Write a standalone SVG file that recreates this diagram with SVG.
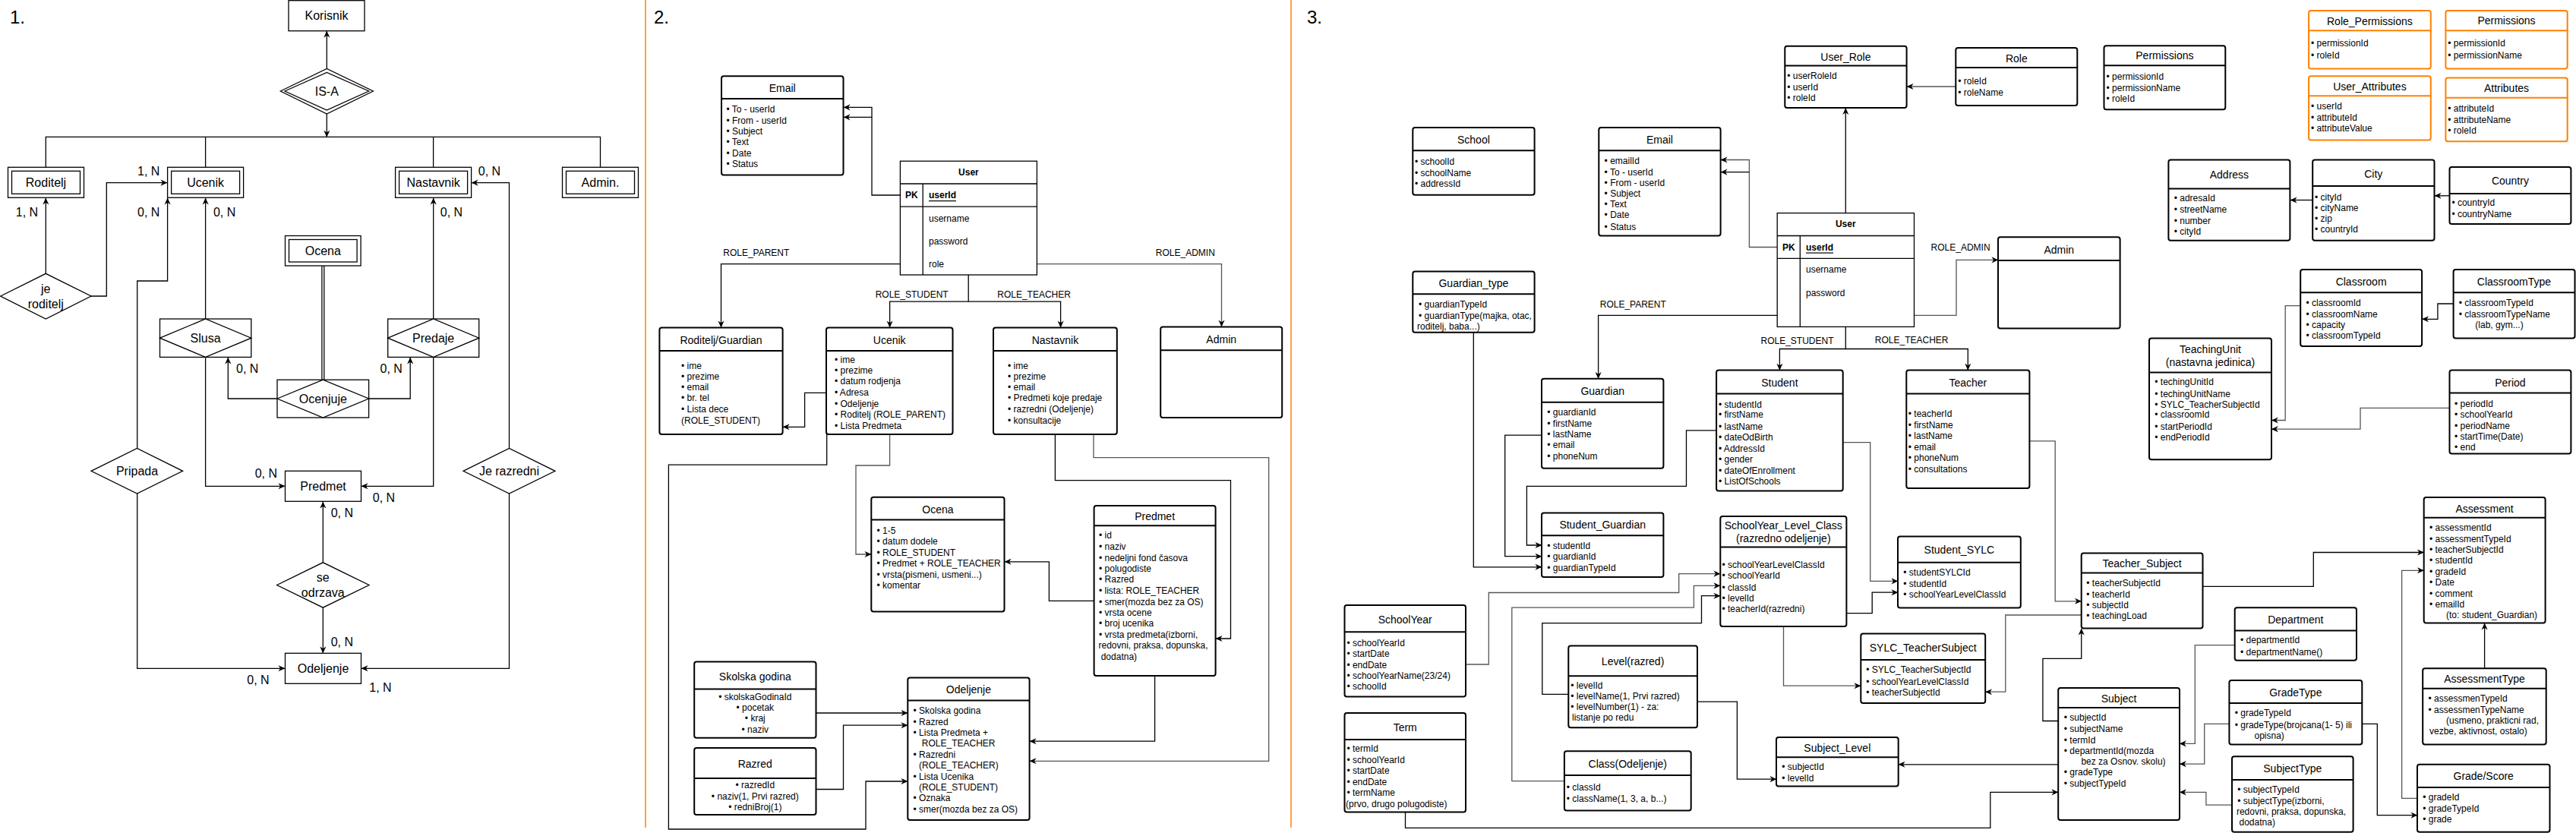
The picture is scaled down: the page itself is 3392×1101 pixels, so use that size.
<svg xmlns="http://www.w3.org/2000/svg" width="3392" height="1101" viewBox="0 0 3392 1101">
<defs>
<style>
text{font-family:"Liberation Sans",Arial,sans-serif;fill:#000}
.e{fill:#fff;stroke:#000;stroke-width:1.3}
.b{fill:#fff;stroke:#000;stroke-width:2}
.o{fill:#fff;stroke:#FF8000;stroke-width:2}
.h{stroke:#000;stroke-width:2}
.ho{stroke:#FF8000;stroke-width:2}
.tb{fill:#fff;stroke:#000;stroke-width:1.3}
.tl{stroke:#000;stroke-width:1.3}
.l16{font-size:16px;text-anchor:middle;dominant-baseline:central}
.t{font-size:14px;text-anchor:middle;dominant-baseline:central}
.i{font-size:12px;dominant-baseline:central}
.ic{font-size:12px;dominant-baseline:central;text-anchor:middle}
.lb{font-size:12px;text-anchor:middle;dominant-baseline:central}
.num{font-size:24px;dominant-baseline:central}
.c{fill:none;stroke:#000;stroke-width:1.3}
.g{fill:none;stroke:#555;stroke-width:1.3}
.div{stroke:#FF8000;stroke-width:1.5}
</style>
<marker id="a" viewBox="0 0 10 10" refX="9.5" refY="5" markerWidth="9" markerHeight="9" markerUnits="userSpaceOnUse" orient="auto"><path d="M0,0.5 L10,5 L0,9.5 L3,5 Z" fill="#000"/></marker>
</defs>
<rect width="3392" height="1101" fill="#fff"/>

<!-- dividers and section numbers -->
<line class="div" x1="850" y1="0" x2="850" y2="1090"/>
<line class="div" x1="1700" y1="0" x2="1700" y2="1090"/>
<text class="num" x="13" y="22">1.</text>
<text class="num" x="861" y="22">2.</text>
<text class="num" x="1721" y="22">3.</text>

<!-- ================= SECTION 1 ================= -->
<g id="s1-connectors">
<path class="c" d="M430.3,90.5 V41" marker-end="url(#a)"/>
<path class="c" d="M430.3,150 V180.3" marker-end="url(#a)"/>
<path class="c" d="M60.3,220.3 V180.3 H790.5 V220.3 M270.6,180.3 V220.3 M570.6,180.3 V220.3"/>
<path class="c" d="M60.3,360.3 V261" marker-end="url(#a)"/>
<path class="c" d="M120,390 H140.3 V240.6 H220" marker-end="url(#a)"/>
<path class="c" d="M180.7,590.4 V370 H220.6 V261" marker-end="url(#a)"/>
<path class="c" d="M270.6,420 V261" marker-end="url(#a)"/>
<path class="c" d="M365,525 H300.3 V471" marker-end="url(#a)"/>
<path class="c" d="M485.6,525 H540.2 V471" marker-end="url(#a)"/>
<path class="c" d="M570.7,420 V261" marker-end="url(#a)"/>
<path class="c" d="M670.5,590.4 V240.6 H621" marker-end="url(#a)"/>
<path class="c" d="M670.5,650 V880.3 H476" marker-end="url(#a)"/>
<path class="c" d="M180.7,650 V880.3 H375" marker-end="url(#a)"/>
<path class="c" d="M270.6,470.4 V640.3 H375" marker-end="url(#a)"/>
<path class="c" d="M570.7,470.4 V640.3 H476" marker-end="url(#a)"/>
<path class="c" d="M425.3,740.8 V661" marker-end="url(#a)"/>
<path class="c" d="M425.3,800.2 V860" marker-end="url(#a)"/>
<path class="c" d="M423.9,350 V500.2 M426.8,350 V500.2"/>
</g>
<g id="s1-labels">
<text class="l16" x="35.5" y="279.6">1, N</text>
<text class="l16" x="195.7" y="225.6">1, N</text>
<text class="l16" x="195.7" y="279.6">0, N</text>
<text class="l16" x="295.6" y="279.6">0, N</text>
<text class="l16" x="594.5" y="279.6">0, N</text>
<text class="l16" x="644.5" y="225.6">0, N</text>
<text class="l16" x="325.7" y="485.5">0, N</text>
<text class="l16" x="515.2" y="485.5">0, N</text>
<text class="l16" x="350.4" y="623.4">0, N</text>
<text class="l16" x="505.5" y="655">0, N</text>
<text class="l16" x="450.4" y="675.5">0, N</text>
<text class="l16" x="450.4" y="845.2">0, N</text>
<text class="l16" x="340" y="895.4">0, N</text>
<text class="l16" x="501" y="905.6">1, N</text>
</g>
<g id="s1-korisnik"><rect class="e" x="380" y="0.7" width="100" height="40"/><text class="l16" x="430" y="20.7">Korisnik</text></g>
<g id="s1-isa"><polygon class="e" points="369.3,120 430.3,90.5 491.4,120 430.3,150"/><polygon class="e" points="375,120 430.3,95.5 485.7,120 430.3,145"/><text class="l16" x="430.3" y="120.6">IS-A</text></g>
<g id="s1-roditelj"><rect class="e" x="10.5" y="220.3" width="100" height="40"/><rect class="e" x="15.5" y="225.3" width="90" height="30"/><text class="l16" x="60.5" y="240.3">Roditelj</text></g>
<g id="s1-ucenik"><rect class="e" x="220.6" y="220.3" width="100" height="40"/><rect class="e" x="225.6" y="225.3" width="90" height="30"/><text class="l16" x="270.6" y="240.3">Ucenik</text></g>
<g id="s1-nastavnik"><rect class="e" x="520.6" y="220.3" width="100" height="40"/><rect class="e" x="525.6" y="225.3" width="90" height="30"/><text class="l16" x="570.6" y="240.3">Nastavnik</text></g>
<g id="s1-admin"><rect class="e" x="740.5" y="220.3" width="100" height="40"/><rect class="e" x="745.5" y="225.3" width="90" height="30"/><text class="l16" x="790.5" y="240.3">Admin.</text></g>
<g id="s1-jeroditelj"><polygon class="e" points="0.7,390 60.3,360.3 120,390 60.3,420"/><text class="l16" x="60.3" y="380.6">je</text><text class="l16" x="60.3" y="400">roditelj</text></g>
<g id="s1-slusa"><rect class="e" x="210.5" y="420" width="120.3" height="50.4"/><polygon class="e" points="210.5,445.2 270.6,420 330.8,445.2 270.6,470.4"/><text class="l16" x="270.6" y="445.6">Slusa</text></g>
<g id="s1-predaje"><rect class="e" x="510.7" y="420" width="120" height="50.4"/><polygon class="e" points="510.7,445.2 570.7,420 630.7,445.2 570.7,470.4"/><text class="l16" x="570.7" y="445.6">Predaje</text></g>
<g id="s1-ocena"><rect class="e" x="375.5" y="310.5" width="99.6" height="39.5"/><rect class="e" x="380.5" y="315.5" width="89.6" height="29.5"/><text class="l16" x="425.3" y="330.4">Ocena</text></g>
<g id="s1-ocenjuje"><rect class="e" x="365" y="500.2" width="120.6" height="49.8"/><polygon class="e" points="365,525 425.3,500.2 485.6,525 425.3,550"/><text class="l16" x="425.3" y="525">Ocenjuje</text></g>
<g id="s1-pripada"><polygon class="e" points="120,620.3 180.5,590.4 240.6,620.3 180.5,650.1"/><text class="l16" x="180.5" y="620.5">Pripada</text></g>
<g id="s1-jerazredni"><polygon class="e" points="610,620.3 670.5,590.4 731,620.3 670.5,650.1"/><text class="l16" x="670.5" y="620.3">Je razredni</text></g>
<g id="s1-predmet"><rect class="e" x="375.5" y="620.3" width="100" height="40"/><text class="l16" x="425.5" y="640.3">Predmet</text></g>
<g id="s1-seodrzava"><polygon class="e" points="364.6,770.5 425.3,740.8 486,770.5 425.3,800.2"/><text class="l16" x="425.3" y="760.8">se</text><text class="l16" x="425.3" y="780.2">odrzava</text></g>
<g id="s1-odeljenje"><rect class="e" x="375.5" y="860.3" width="100" height="40"/><text class="l16" x="425.5" y="880.3">Odeljenje</text></g>

<!-- ================= SECTION 2 ================= -->
<g id="s2-connectors">
<path class="c" d="M1185.4,257 H1148 V141.4 H1111" marker-end="url(#a)"/>
<path class="c" d="M1148,154.4 H1111" marker-end="url(#a)"/>
<path class="c" d="M1185.4,347.6 H949.5 V431" marker-end="url(#a)"/>
<path class="g" d="M1365.4,347.6 H1608.5 V430" marker-end="url(#a)"/>
<path class="c" d="M1275.2,362 V397.1 H1171.6 V431" marker-end="url(#a)"/>
<path class="c" d="M1275.2,397.1 H1396.6 V431" marker-end="url(#a)"/>
<path class="c" d="M1088,517.4 H1059.6 V562.3 H1031" marker-end="url(#a)"/>
<path class="g" d="M1171.6,572 V613 H1127 V730 H1147" marker-end="url(#a)"/>
<path class="c" d="M1088.7,572 V612.2 H880.4 V1092 H1140 V1029 H1195" marker-end="url(#a)"/>
<path class="c" d="M1389.4,572 V632.6 H1620.5 V841 H1601" marker-end="url(#a)"/>
<path class="g" d="M1440,572 V602.7 H1670.7 V1002.3 H1356" marker-end="url(#a)"/>
<path class="c" d="M1440.6,791.4 H1381.4 V739.8 H1323" marker-end="url(#a)"/>
<path class="c" d="M1520.6,890 V976.2 H1356" marker-end="url(#a)"/>
<path class="c" d="M1074.5,939 H1195" marker-end="url(#a)"/>
<path class="c" d="M1074.5,1039.5 H1110.5 V955.2 H1195" marker-end="url(#a)"/>
</g>
<g id="s2-labels">
<text class="lb" x="995.8" y="332.6">ROLE_PARENT</text>
<text class="lb" x="1560.8" y="332.6">ROLE_ADMIN</text>
<text class="lb" x="1200.7" y="387.6">ROLE_STUDENT</text>
<text class="lb" x="1361.6" y="387.6">ROLE_TEACHER</text>
</g>
<g id="s2-email"><rect class="b" x="950" y="100.3" width="160.5" height="130.2" rx="3"/><line class="h" x1="950" y1="130" x2="1110.5" y2="130"/><text class="t" x="1030.2" y="115.8">Email</text>
<text class="i"><tspan x="956.5" y="143.5">• To - userId</tspan><tspan x="956.5" y="158.6">• From - userId</tspan><tspan x="956.5" y="172.6">• Subject</tspan><tspan x="956.5" y="187">• Text</tspan><tspan x="956.5" y="201.7">• Date</tspan><tspan x="956.5" y="215.7">• Status</tspan></text></g>
<g id="s2-user"><rect class="tb" x="1185.4" y="212.2" width="180" height="149.8"/><line class="tl" x1="1185.4" y1="242" x2="1365.4" y2="242"/><line class="tl" x1="1185.4" y1="272.2" x2="1365.4" y2="272.2"/><line class="tl" x1="1215.2" y1="242" x2="1215.2" y2="362"/>
<text class="lb" x="1275.4" y="227.3" font-weight="bold">User</text><text class="lb" x="1200.3" y="257" font-weight="bold">PK</text><text class="i" x="1223" y="257" font-weight="bold" text-decoration="underline">userId</text>
<text class="i"><tspan x="1223" y="287.7">username</tspan><tspan x="1223" y="317.5">password</tspan><tspan x="1223" y="347.6">role</tspan></text></g>
<g id="s2-roditelj"><rect class="b" x="868.4" y="431.5" width="162.2" height="140.6" rx="3"/><line class="h" x1="868.4" y1="462" x2="1030.6" y2="462"/><text class="t" x="949.5" y="448">Roditelj/Guardian</text>
<text class="i"><tspan x="897" y="481.6">• ime</tspan><tspan x="897" y="495.7">• prezime</tspan><tspan x="897" y="509.7">• email</tspan><tspan x="897" y="524.4">• br. tel</tspan><tspan x="897" y="538.5">• Lista dece</tspan><tspan x="897" y="554.2">(ROLE_STUDENT)</tspan></text></g>
<g id="s2-ucenik"><rect class="b" x="1088" y="431.5" width="166.5" height="140.6" rx="3"/><line class="h" x1="1088" y1="462" x2="1254.5" y2="462"/><text class="t" x="1171.2" y="448">Ucenik</text>
<text class="i"><tspan x="1099" y="473.6">• ime</tspan><tspan x="1099" y="488.3">• prezime</tspan><tspan x="1099" y="502.3">• datum rodjenja</tspan><tspan x="1099" y="517.4">• Adresa</tspan><tspan x="1099" y="531.5">• Odeljenje</tspan><tspan x="1099" y="545.5">• Roditelj (ROLE_PARENT)</tspan><tspan x="1099" y="560.5">• Lista Predmeta</tspan></text></g>
<g id="s2-nastavnik"><rect class="b" x="1308" y="431.5" width="162.8" height="140.6" rx="3"/><line class="h" x1="1308" y1="462" x2="1470.8" y2="462"/><text class="t" x="1389.4" y="448">Nastavnik</text>
<text class="i"><tspan x="1327" y="481.6">• ime</tspan><tspan x="1327" y="495.7">• prezime</tspan><tspan x="1327" y="509.7">• email</tspan><tspan x="1327" y="524.4">• Predmeti koje predaje</tspan><tspan x="1327" y="538.5">• razredni (Odeljenje)</tspan><tspan x="1327" y="554.2">• konsultacije</tspan></text></g>
<g id="s2-admin"><rect class="b" x="1528.2" y="430.4" width="160" height="119.6" rx="3"/><line class="h" x1="1528.2" y1="461.3" x2="1688.2" y2="461.3"/><text class="t" x="1608.2" y="447.3">Admin</text></g>
<g id="s2-ocena"><rect class="b" x="1147.3" y="654.7" width="175.2" height="150.8" rx="3"/><line class="h" x1="1147.3" y1="684.6" x2="1322.5" y2="684.6"/><text class="t" x="1234.9" y="671.2">Ocena</text>
<text class="i"><tspan x="1154.5" y="698.6">• 1-5</tspan><tspan x="1154.5" y="713.4">• datum dodele</tspan><tspan x="1154.5" y="727.5">• ROLE_STUDENT</tspan><tspan x="1154.5" y="741.5">• Predmet + ROLE_TEACHER</tspan><tspan x="1154.5" y="756.6">• vrsta(pismeni, usmeni...)</tspan><tspan x="1154.5" y="770.7">• komentar</tspan></text></g>
<g id="s2-predmet"><rect class="b" x="1440.6" y="666" width="160" height="224" rx="3"/><line class="h" x1="1440.6" y1="692.3" x2="1600.6" y2="692.3"/><text class="t" x="1520.6" y="680">Predmet</text>
<text class="i"><tspan x="1447" y="705.3">• id</tspan><tspan x="1447" y="720.4">• naziv</tspan><tspan x="1447" y="734.5">• nedeljni fond časova</tspan><tspan x="1447" y="748.5">• polugodiste</tspan><tspan x="1447" y="763.3">• Razred</tspan><tspan x="1447" y="777.7">• lista: ROLE_TEACHER</tspan><tspan x="1447" y="792.5">• smer(mozda bez za OS)</tspan><tspan x="1447" y="806.5">• vrsta ocene</tspan><tspan x="1447" y="820.6">• broj ucenika</tspan><tspan x="1447" y="835.7">• vrsta predmeta(izborni,</tspan><tspan x="1446.5" y="849.7">redovni, praksa, dopunska,</tspan><tspan x="1449.7" y="864.5">dodatna)</tspan></text></g>
<g id="s2-odeljenje"><rect class="b" x="1195.3" y="892.6" width="160.3" height="187.4" rx="3"/><line class="h" x1="1195.3" y1="922.5" x2="1355.6" y2="922.5"/><text class="t" x="1275.4" y="907.7">Odeljenje</text>
<text class="i"><tspan x="1202.5" y="935.5">• Skolska godina</tspan><tspan x="1202.5" y="950.6">• Razred</tspan><tspan x="1202.5" y="964.6">• Lista Predmeta +</tspan><tspan x="1213.8" y="978.7">ROLE_TEACHER</tspan><tspan x="1202.5" y="993.5">• Razredni</tspan><tspan x="1210" y="1007.5">(ROLE_TEACHER)</tspan><tspan x="1202.5" y="1022.6">• Lista Ucenika</tspan><tspan x="1210" y="1036.7">(ROLE_STUDENT)</tspan><tspan x="1202.5" y="1050.7">• Oznaka</tspan><tspan x="1202.5" y="1065.5">• smer(mozda bez za OS)</tspan></text></g>
<g id="s2-skolskagodina"><rect class="b" x="914.2" y="871.6" width="160.3" height="100.1" rx="3"/><line class="h" x1="914.2" y1="907.4" x2="1074.5" y2="907.4"/><text class="t" x="994.3" y="890.9">Skolska godina</text>
<text class="ic"><tspan x="994.3" y="917.6">• skolskaGodinaId</tspan><tspan x="994.3" y="932">• pocetak</tspan><tspan x="994.3" y="946.4">• kraj</tspan><tspan x="994.3" y="960.5">• naziv</tspan></text></g>
<g id="s2-razred"><rect class="b" x="914.2" y="985" width="160.3" height="88" rx="3"/><line class="h" x1="914.2" y1="1025" x2="1074.5" y2="1025"/><text class="t" x="994.3" y="1005.8">Razred</text>
<text class="ic"><tspan x="994.3" y="1034.2">• razredId</tspan><tspan x="994.3" y="1049">• naziv(1, Prvi razred)</tspan><tspan x="994.3" y="1063.4">• redniBroj(1)</tspan></text></g>

<!-- ================= SECTION 3 ================= -->
<g id="s3-connectors">
<path class="c" d="M2430.3,280.6 V142.5" marker-end="url(#a)"/>
<path class="g" d="M2575.3,114 H2511" marker-end="url(#a)"/>
<path class="g" d="M2340.2,325.5 H2303.4 V210.5 H2266" marker-end="url(#a)"/>
<path class="c" d="M2303.4,226.6 H2266" marker-end="url(#a)"/>
<path class="c" d="M2340.2,415.3 H2104.6 V498.5" marker-end="url(#a)"/>
<path class="g" d="M2520.5,415.3 H2576 V342.4 H2631" marker-end="url(#a)"/>
<path class="c" d="M2430.3,430.4 V459.5 H2343.4 V487.3" marker-end="url(#a)"/>
<path class="c" d="M2430.3,459.5 H2591.3 V487.3" marker-end="url(#a)"/>
<path class="c" d="M2030,573.2 H1981.7 V732.7 H2030" marker-end="url(#a)"/>
<path class="c" d="M2260.1,566.9 H2220.5 V640.3 H2010.4 V718 H2030" marker-end="url(#a)"/>
<path class="c" d="M1940.3,437.8 V746.8 H2030" marker-end="url(#a)"/>
<path class="g" d="M1930,875 H1960.3 V780.5 H2210.7 V755.6 H2265" marker-end="url(#a)"/>
<path class="g" d="M2059.9,1028.6 H1990.8 V800.2 H2230.4 V771.4 H2265" marker-end="url(#a)"/>
<path class="c" d="M2065.3,914.4 H2030.8 V820.6 H2240.5 V784.7 H2265" marker-end="url(#a)"/>
<path class="c" d="M2235,924.2 H2287.4 V1026.1 H2339" marker-end="url(#a)"/>
<path class="c" d="M1850.5,1069.4 V1090.4 H2620.8 V1043.4 H2710" marker-end="url(#a)"/>
<path class="g" d="M2426.7,582.7 H2462.7 V765.4 H2499" marker-end="url(#a)"/>
<path class="c" d="M2431.4,807.6 H2465.2 V780.2 H2499" marker-end="url(#a)"/>
<path class="g" d="M2348.5,825 V903.2 H2450" marker-end="url(#a)"/>
<path class="g" d="M2672.4,580.9 H2706.2 V791.8 H2740.5" marker-end="url(#a)"/>
<path class="g" d="M2740.7,810 H2640.8 V911.2 H2614.5" marker-end="url(#a)"/>
<path class="c" d="M2710.2,949.5 H2689.9 V867.3 H2740.7 V828" marker-end="url(#a)"/>
<path class="c" d="M2710.2,1006.8 H2500" marker-end="url(#a)"/>
<path class="c" d="M2900.5,772.4 H3046.3 V727.5 H3191.5" marker-end="url(#a)"/>
<path class="g" d="M3183,1051.4 H3162.6 V751.3 H3191.5" marker-end="url(#a)"/>
<path class="c" d="M3271.6,880.3 V821" marker-end="url(#a)"/>
<path class="g" d="M2942.7,849.7 H2890.3 V979.4 H2870.3" marker-end="url(#a)"/>
<path class="g" d="M2935.4,953.4 H2902.7 V1006.1 H2870.3" marker-end="url(#a)"/>
<path class="g" d="M2939,1060.2 H2904.9 V1043.4 H2870.3" marker-end="url(#a)"/>
<path class="c" d="M3110.3,953.4 H3130.3 V1073.6 H3183" marker-end="url(#a)"/>
<path class="g" d="M3029.2,402.7 H3009.2 V553.5 H2991.3" marker-end="url(#a)"/>
<path class="g" d="M3225.5,537.4 H3108 V565.1 H2991.3" marker-end="url(#a)"/>
<path class="c" d="M3230.6,400 H3209.9 V420.3 H3189.5" marker-end="url(#a)"/>
<path class="c" d="M3225.5,257.8 H3206" marker-end="url(#a)"/>
<path class="c" d="M3045.2,263.5 H3016" marker-end="url(#a)"/>
</g>
<g id="s3-labels">
<text class="lb" x="2150.3" y="400.6">ROLE_PARENT</text>
<text class="lb" x="2581.6" y="325.5">ROLE_ADMIN</text>
<text class="lb" x="2366.5" y="448.7">ROLE_STUDENT</text>
<text class="lb" x="2517.2" y="447.6">ROLE_TEACHER</text>
</g>
<g id="s3-school"><rect class="b" x="1860.3" y="168" width="160.3" height="88.8" rx="3"/><line class="h" x1="1860.3" y1="198.2" x2="2020.6" y2="198.2"/><text class="t" x="1940.4" y="184.2">School</text>
<text class="i"><tspan x="1863" y="212.6">• schoolId</tspan><tspan x="1863" y="227.7">• schoolName</tspan><tspan x="1863" y="241.7">• addressId</tspan></text></g>
<g id="s3-email"><rect class="b" x="2105.3" y="168" width="160.3" height="142.5" rx="3"/><line class="h" x1="2105.3" y1="198.2" x2="2265.6" y2="198.2"/><text class="t" x="2185.4" y="184.2">Email</text>
<text class="i"><tspan x="2112.6" y="211.5">• emailId</tspan><tspan x="2112.6" y="226.6">• To - userId</tspan><tspan x="2112.6" y="240.7">• From - userId</tspan><tspan x="2112.6" y="254.7">• Subject</tspan><tspan x="2112.6" y="269.4">• Text</tspan><tspan x="2112.6" y="283.4">• Date</tspan><tspan x="2112.6" y="298.5">• Status</tspan></text></g>
<g id="s3-guardiantype"><rect class="b" x="1860.3" y="357.5" width="160.3" height="80.3" rx="3"/><line class="h" x1="1860.3" y1="387.3" x2="2020.6" y2="387.3"/><text class="t" x="1940.4" y="373.3">Guardian_type</text>
<text class="i"><tspan x="1868" y="400.6">• guardianTypeId</tspan><tspan x="1868" y="415.7">• guardianType(majka, otac,</tspan><tspan x="1866" y="429.7">roditelj, baba...)</tspan></text></g>
<g id="s3-guardian"><rect class="b" x="2030" y="498.8" width="160.4" height="118" rx="3"/><line class="h" x1="2030" y1="529.7" x2="2190.4" y2="529.7"/><text class="t" x="2110.2" y="515.3">Guardian</text>
<text class="i"><tspan x="2037.3" y="542.7">• guardianId</tspan><tspan x="2037.3" y="557.7">• firstName</tspan><tspan x="2037.3" y="571.8">• lastName</tspan><tspan x="2037.3" y="585.8">• email</tspan><tspan x="2037.3" y="601">• phoneNum</tspan></text></g>
<g id="s3-studentguardian"><rect class="b" x="2030" y="675.4" width="160.4" height="84.7" rx="3"/><line class="h" x1="2030" y1="705.3" x2="2190.4" y2="705.3"/><text class="t" x="2110.2" y="691.3">Student_Guardian</text>
<text class="i"><tspan x="2037.3" y="718.7">• studentId</tspan><tspan x="2037.3" y="733.4">• guardianId</tspan><tspan x="2037.3" y="747.8">• guardianTypeId</tspan></text></g>
<g id="s3-schoolyear"><rect class="b" x="1770.5" y="797" width="159.5" height="120.6" rx="3"/><line class="h" x1="1770.5" y1="832.2" x2="1930" y2="832.2"/><text class="t" x="1850.2" y="816">SchoolYear</text>
<text class="i"><tspan x="1773.4" y="847">• schoolYearId</tspan><tspan x="1773.4" y="861">• startDate</tspan><tspan x="1773.4" y="875.8">• endDate</tspan><tspan x="1773.4" y="889.8">• schoolYearName(23/24)</tspan><tspan x="1773.4" y="903.9">• schoolId</tspan></text></g>
<g id="s3-term"><rect class="b" x="1770.5" y="939" width="159.5" height="130.4" rx="3"/><line class="h" x1="1770.5" y1="974.1" x2="1930" y2="974.1"/><text class="t" x="1850.2" y="958.3">Term</text>
<text class="i"><tspan x="1773.4" y="986.4">• termId</tspan><tspan x="1773.4" y="1000.5">• schoolYearId</tspan><tspan x="1773.4" y="1014.6">• startDate</tspan><tspan x="1773.4" y="1029.7">• endDate</tspan><tspan x="1773.4" y="1043.7">• termName</tspan><tspan x="1772" y="1058.8">(prvo, drugo polugodiste)</tspan></text></g>
<g id="s3-level"><rect class="b" x="2065.3" y="850.4" width="169.7" height="107.9" rx="3"/><line class="h" x1="2065.3" y1="890.2" x2="2235" y2="890.2"/><text class="t" x="2150.1" y="871.2">Level(razred)</text>
<text class="i"><tspan x="2068.2" y="902.5">• levelId</tspan><tspan x="2068.2" y="916.5">• levelName(1, Prvi razred)</tspan><tspan x="2068.2" y="931.3">• levelNumber(1) - za:</tspan><tspan x="2070" y="945.3">listanje po redu</tspan></text></g>
<g id="s3-class"><rect class="b" x="2059.9" y="989.3" width="166.8" height="78.3" rx="3"/><line class="h" x1="2059.9" y1="1020.9" x2="2226.7" y2="1020.9"/><text class="t" x="2143.3" y="1006.1">Class(Odeljenje)</text>
<text class="i"><tspan x="2062.8" y="1036.7">• classId</tspan><tspan x="2062.8" y="1051.8">• className(1, 3, a, b...)</tspan></text></g>
<g id="s3-userrole"><rect class="b" x="2350.3" y="60.7" width="160.3" height="81.3" rx="3"/><line class="h" x1="2350.3" y1="86.6" x2="2510.6" y2="86.6"/><text class="t" x="2430.4" y="74.7">User_Role</text>
<text class="i"><tspan x="2353.2" y="99.6">• userRoleId</tspan><tspan x="2353.2" y="114.7">• userId</tspan><tspan x="2353.2" y="128.7">• roleId</tspan></text></g>
<g id="s3-role"><rect class="b" x="2575.3" y="63.1" width="160" height="75.8" rx="3"/><line class="h" x1="2575.3" y1="89.1" x2="2735.3" y2="89.1"/><text class="t" x="2655.3" y="76.8">Role</text>
<text class="i"><tspan x="2578.3" y="106.6">• roleId</tspan><tspan x="2578.3" y="121.7">• roleName</tspan></text></g>
<g id="s3-permissions"><rect class="b" x="2770.5" y="60.3" width="159.8" height="83.9" rx="3"/><line class="h" x1="2770.5" y1="86.3" x2="2930.3" y2="86.3"/><text class="t" x="2850.4" y="73">Permissions</text>
<text class="i"><tspan x="2773.5" y="100.7">• permissionId</tspan><tspan x="2773.5" y="115.8">• permissionName</tspan><tspan x="2773.5" y="129.8">• roleId</tspan></text></g>
<g id="s3-user"><rect class="tb" x="2340.2" y="280.6" width="180.3" height="149.8"/><line class="tl" x1="2340.2" y1="310.5" x2="2520.5" y2="310.5"/><line class="tl" x1="2340.2" y1="340.3" x2="2520.5" y2="340.3"/><line class="tl" x1="2370.3" y1="310.5" x2="2370.3" y2="430.4"/>
<text class="lb" x="2430.3" y="295.4" font-weight="bold">User</text><text class="lb" x="2355.3" y="325.5" font-weight="bold">PK</text><text class="i" x="2378" y="325.5" font-weight="bold" text-decoration="underline">userId</text>
<text class="i"><tspan x="2378" y="355.4">username</tspan><tspan x="2378" y="385.5">password</tspan></text></g>
<g id="s3-admin"><rect class="b" x="2631" y="312.2" width="160.6" height="120.3" rx="3"/><line class="h" x1="2631" y1="343" x2="2791.6" y2="343"/><text class="t" x="2711.3" y="329">Admin</text></g>
<g id="s3-student"><rect class="b" x="2260.1" y="487.6" width="166.6" height="159" rx="3"/><line class="h" x1="2260.1" y1="518.5" x2="2426.7" y2="518.5"/><text class="t" x="2343.4" y="504">Student</text>
<text class="i"><tspan x="2263" y="532.5">• studentId</tspan><tspan x="2263" y="546.2">• firstName</tspan><tspan x="2263" y="561.6">• lastName</tspan><tspan x="2263" y="575.7">• dateOdBirth</tspan><tspan x="2263" y="590.8">• AddressId</tspan><tspan x="2263" y="604.5">• gender</tspan><tspan x="2263" y="619.6">• dateOfEnrollment</tspan><tspan x="2263" y="633.6">• ListOfSchools</tspan></text></g>
<g id="s3-teacher"><rect class="b" x="2510.3" y="487.6" width="162.1" height="155.5" rx="3"/><line class="h" x1="2510.3" y1="518.5" x2="2672.4" y2="518.5"/><text class="t" x="2591.3" y="504">Teacher</text>
<text class="i"><tspan x="2512.8" y="544.8">• teacherId</tspan><tspan x="2512.8" y="559.5">• firstName</tspan><tspan x="2512.8" y="573.5">• lastName</tspan><tspan x="2512.8" y="588.7">• email</tspan><tspan x="2512.8" y="602.7">• phoneNum</tspan><tspan x="2512.8" y="617.5">• consultations</tspan></text></g>
<g id="s3-sylc"><rect class="b" x="2265.3" y="680" width="166.1" height="145" rx="3"/><line class="h" x1="2265.3" y1="720.4" x2="2431.4" y2="720.4"/><text class="t" x="2348.3" y="692">SchoolYear_Level_Class</text><text class="t" x="2348.3" y="709.2">(razredno odeljenje)</text>
<text class="i"><tspan x="2267.5" y="744.3">• schoolYearLevelClassId</tspan><tspan x="2267.5" y="758.4">• schoolYearId</tspan><tspan x="2267.5" y="773.5">• classId</tspan><tspan x="2267.5" y="787.5">• levelId</tspan><tspan x="2267.5" y="801.6">• teacherId(razredni)</tspan></text></g>
<g id="s3-studentsylc"><rect class="b" x="2499" y="706.4" width="161.8" height="94.1" rx="3"/><line class="h" x1="2499" y1="740.8" x2="2660.8" y2="740.8"/><text class="t" x="2579.9" y="724">Student_SYLC</text>
<text class="i"><tspan x="2506.3" y="753.5">• studentSYLCId</tspan><tspan x="2506.3" y="768.6">• studentId</tspan><tspan x="2506.3" y="782.6">• schoolYearLevelClassId</tspan></text></g>
<g id="s3-sylcts"><rect class="b" x="2450.3" y="834.6" width="163.9" height="91.4" rx="3"/><line class="h" x1="2450.3" y1="869" x2="2614.2" y2="869"/><text class="t" x="2532.2" y="852.9">SYLC_TeacherSubject</text>
<text class="i"><tspan x="2457.2" y="882.4">• SYLC_TeacherSubjectId</tspan><tspan x="2457.2" y="897.5">• schoolYearLevelClassId</tspan><tspan x="2457.2" y="911.9">• teacherSubjectId</tspan></text></g>
<g id="s3-subjectlevel"><rect class="b" x="2339" y="971" width="160.7" height="64.6" rx="3"/><line class="h" x1="2339" y1="997.3" x2="2499.7" y2="997.3"/><text class="t" x="2419.3" y="985">Subject_Level</text>
<text class="i"><tspan x="2346.3" y="1010.3">• subjectId</tspan><tspan x="2346.3" y="1025.4">• levelId</tspan></text></g>
<g id="s3-teachersubject"><rect class="b" x="2740.7" y="728.5" width="159.8" height="99.1" rx="3"/><line class="h" x1="2740.7" y1="754.5" x2="2900.5" y2="754.5"/><text class="t" x="2820.6" y="742.2">Teacher_Subject</text>
<text class="i"><tspan x="2747.3" y="767.9">• teacherSubjectId</tspan><tspan x="2747.3" y="782.6">• teacherId</tspan><tspan x="2747.3" y="796.7">• subjectId</tspan><tspan x="2747.3" y="810.7">• teachingLoad</tspan></text></g>
<g id="s3-subject"><rect class="b" x="2710.2" y="906" width="159.8" height="174" rx="3"/><line class="h" x1="2710.2" y1="932" x2="2870" y2="932"/><text class="t" x="2790.1" y="920">Subject</text>
<text class="i"><tspan x="2717.8" y="945.3">• subjectId</tspan><tspan x="2717.8" y="960.4">• subjectName</tspan><tspan x="2717.8" y="974.5">• termId</tspan><tspan x="2717.8" y="988.5">• departmentId(mozda</tspan><tspan x="2740.4" y="1003.3">bez za Osnov. skolu)</tspan><tspan x="2717.8" y="1017.4">• gradeType</tspan><tspan x="2717.8" y="1032.1">• subjectTypeId</tspan></text></g>
<g id="s3-rolepermissions"><rect class="o" x="3040.1" y="14" width="160.7" height="76.5" rx="3"/><line class="ho" x1="3040.1" y1="40.3" x2="3200.8" y2="40.3"/><text class="t" x="3120.4" y="28">Role_Permissions</text>
<text class="i"><tspan x="3043" y="57.2">• permissionId</tspan><tspan x="3043" y="72.6">• roleId</tspan></text></g>
<g id="s3-permissions-o"><rect class="o" x="3220.4" y="14" width="160.3" height="76.5" rx="3"/><line class="ho" x1="3220.4" y1="40.3" x2="3380.7" y2="40.3"/><text class="t" x="3300.5" y="27">Permissions</text>
<text class="i"><tspan x="3223.3" y="57.2">• permissionId</tspan><tspan x="3223.3" y="72.6">• permissionName</tspan></text></g>
<g id="s3-userattributes"><rect class="o" x="3040.1" y="100.3" width="160.7" height="84.2" rx="3"/><line class="ho" x1="3040.1" y1="126.3" x2="3200.8" y2="126.3"/><text class="t" x="3120.4" y="114">User_Attributes</text>
<text class="i"><tspan x="3043" y="140.3">• userId</tspan><tspan x="3043" y="155.4">• attributeId</tspan><tspan x="3043" y="169.4">• attributeValue</tspan></text></g>
<g id="s3-attributes"><rect class="o" x="3220.4" y="102.4" width="160.3" height="83.9" rx="3"/><line class="ho" x1="3220.4" y1="128.7" x2="3380.7" y2="128.7"/><text class="t" x="3300.5" y="115.8">Attributes</text>
<text class="i"><tspan x="3223.3" y="142.8">• attributeId</tspan><tspan x="3223.3" y="157.9">• attributeName</tspan><tspan x="3223.3" y="171.9">• roleId</tspan></text></g>
<g id="s3-address"><rect class="b" x="2855.4" y="210.5" width="160" height="106.3" rx="3"/><line class="h" x1="2855.4" y1="248.4" x2="3015.4" y2="248.4"/><text class="t" x="2935.4" y="229.8">Address</text>
<text class="i"><tspan x="2862.7" y="261.3">• adresaId</tspan><tspan x="2862.7" y="276.4">• streetName</tspan><tspan x="2862.7" y="290.5">• number</tspan><tspan x="2862.7" y="304.5">• cityId</tspan></text></g>
<g id="s3-city"><rect class="b" x="3045.2" y="210.5" width="160.3" height="106.3" rx="3"/><line class="h" x1="3045.2" y1="244.9" x2="3205.5" y2="244.9"/><text class="t" x="3125.3" y="229">City</text>
<text class="i"><tspan x="3048" y="259.6">• cityId</tspan><tspan x="3048" y="273.6">• cityName</tspan><tspan x="3048" y="288.4">• zip</tspan><tspan x="3048" y="302.4">• countryId</tspan></text></g>
<g id="s3-country"><rect class="b" x="3225.5" y="220" width="159.9" height="75" rx="3"/><line class="h" x1="3225.5" y1="255" x2="3385.4" y2="255"/><text class="t" x="3305.4" y="237.8">Country</text>
<text class="i"><tspan x="3228.4" y="267.3">• countryId</tspan><tspan x="3228.4" y="282.4">• countryName</tspan></text></g>
<g id="s3-classroom"><rect class="b" x="3029.2" y="355" width="159.9" height="101" rx="3"/><line class="h" x1="3029.2" y1="385.2" x2="3189.1" y2="385.2"/><text class="t" x="3109.1" y="370.8">Classroom</text>
<text class="i"><tspan x="3036.5" y="398.5">• classroomId</tspan><tspan x="3036.5" y="413.6">• classroomName</tspan><tspan x="3036.5" y="428">• capacity</tspan><tspan x="3036.5" y="442">• classroomTypeId</tspan></text></g>
<g id="s3-classroomtype"><rect class="b" x="3230.6" y="355" width="159.9" height="90.5" rx="3"/><line class="h" x1="3230.6" y1="385.2" x2="3390.5" y2="385.2"/><text class="t" x="3310.5" y="370.8">ClassroomType</text>
<text class="i"><tspan x="3237.8" y="398.5">• classroomTypeId</tspan><tspan x="3237.8" y="413.6">• classroomTypeName</tspan></text><text class="ic" x="3291" y="428">(lab, gym...)</text></g>
<g id="s3-teachingunit"><rect class="b" x="2830" y="445.5" width="161" height="159.7" rx="3"/><line class="h" x1="2830" y1="490.4" x2="2991" y2="490.4"/><text class="t" x="2910.5" y="460">TeachingUnit</text><text class="t" x="2910.5" y="477.4">(nastavna jedinica)</text>
<text class="i"><tspan x="2837.3" y="503.4">• techingUnitId</tspan><tspan x="2837.3" y="518.5">• techingUnitName</tspan><tspan x="2837.3" y="532.5">• SYLC_TeacherSubjectId</tspan><tspan x="2837.3" y="545.5">• classroomId</tspan><tspan x="2837.3" y="561.6">• startPeriodId</tspan><tspan x="2837.3" y="575.7">• endPeriodId</tspan></text></g>
<g id="s3-period"><rect class="b" x="3225.5" y="487.6" width="159.9" height="109.8" rx="3"/><line class="h" x1="3225.5" y1="517.4" x2="3385.4" y2="517.4"/><text class="t" x="3305.4" y="504">Period</text>
<text class="i"><tspan x="3232" y="531.5">• periodId</tspan><tspan x="3232" y="545.5">• schoolYearId</tspan><tspan x="3232" y="560.5">• periodName</tspan><tspan x="3232" y="574.6">• startTime(Date)</tspan><tspan x="3232" y="589.4">• end</tspan></text></g>
<g id="s3-assessment"><rect class="b" x="3191.7" y="655" width="159.9" height="165.6" rx="3"/><line class="h" x1="3191.7" y1="681.8" x2="3351.6" y2="681.8"/><text class="t" x="3271.6" y="669.5">Assessment</text>
<text class="i"><tspan x="3199" y="694.8">• assessmentId</tspan><tspan x="3199" y="709.9">• assessmentTypeId</tspan><tspan x="3199" y="724">• teacherSubjectId</tspan><tspan x="3199" y="738">• studentId</tspan><tspan x="3199" y="752.8">• gradeId</tspan><tspan x="3199" y="766.8">• Date</tspan><tspan x="3199" y="781.9">• comment</tspan><tspan x="3199" y="796">• emailId</tspan><tspan x="3221" y="810">(to: student_Guardian)</tspan></text></g>
<g id="s3-department"><rect class="b" x="2942.7" y="800.2" width="160.3" height="69.6" rx="3"/><line class="h" x1="2942.7" y1="830.4" x2="3103" y2="830.4"/><text class="t" x="3022.8" y="816">Department</text>
<text class="i"><tspan x="2950" y="843.4">• departmentId</tspan><tspan x="2950" y="858.5">• departmentName()</tspan></text></g>
<g id="s3-gradetype"><rect class="b" x="2935.4" y="896.1" width="174.9" height="84.4" rx="3"/><line class="h" x1="2935.4" y1="926" x2="3110.3" y2="926"/><text class="t" x="3022.8" y="912">GradeType</text>
<text class="i"><tspan x="2942.7" y="939.4">• gradeTypeId</tspan><tspan x="2942.7" y="955.2">• gradeType(brojcana(1- 5) ili</tspan><tspan x="2968.5" y="969.2">opisna)</tspan></text></g>
<g id="s3-subjecttype"><rect class="b" x="2939" y="996.3" width="159.6" height="99.4" rx="3"/><line class="h" x1="2939" y1="1026.9" x2="3098.6" y2="1026.9"/><text class="t" x="3018.8" y="1012">SubjectType</text>
<text class="i"><tspan x="2946.3" y="1039.5">• subjectTypeId</tspan><tspan x="2946.3" y="1055">• subjectType(izborni,</tspan><tspan x="2944.9" y="1069">redovni, praksa, dopunska,</tspan><tspan x="2948.5" y="1083">dodatna)</tspan></text></g>
<g id="s3-assessmenttype"><rect class="b" x="3190.2" y="880.3" width="162.5" height="100.2" rx="3"/><line class="h" x1="3190.2" y1="906.7" x2="3352.7" y2="906.7"/><text class="t" x="3271.5" y="893.7">AssessmentType</text>
<text class="i"><tspan x="3197.5" y="919.7">• assessmenTypeId</tspan><tspan x="3197.5" y="934.8">• assessmenTypeName</tspan><tspan x="3221" y="948.8">(usmeno, prakticni rad,</tspan><tspan x="3199" y="962.9">vezbe, aktivnost, ostalo)</tspan></text></g>
<g id="s3-gradescore"><rect class="b" x="3183" y="1006.8" width="174.5" height="88.9" rx="3"/><line class="h" x1="3183" y1="1037" x2="3357.5" y2="1037"/><text class="t" x="3270.2" y="1022">Grade/Score</text>
<text class="i"><tspan x="3190.2" y="1049.7">• gradeId</tspan><tspan x="3190.2" y="1064.8">• gradeTypeId</tspan><tspan x="3190.2" y="1078.9">• grade</tspan></text></g>
</svg>
